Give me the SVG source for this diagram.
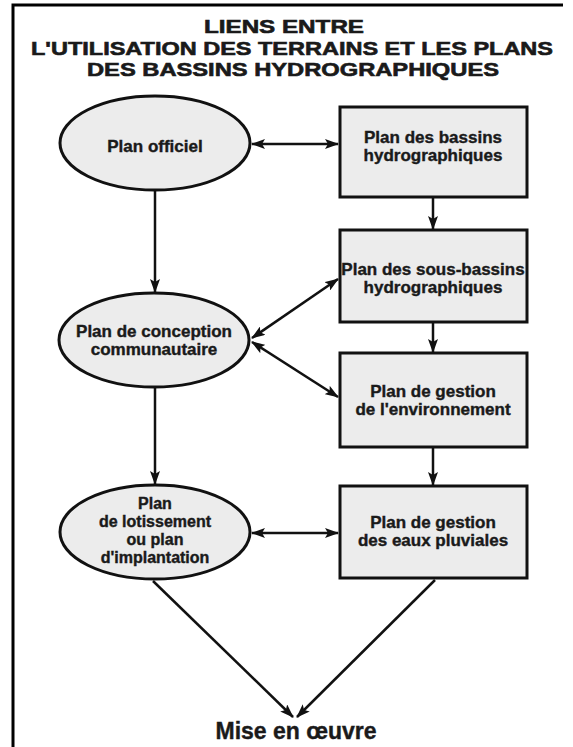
<svg xmlns="http://www.w3.org/2000/svg" width="573" height="747" viewBox="0 0 573 747">
<style>
.t{font-family:"Liberation Sans",Arial,sans-serif;font-weight:bold;fill:#1a1a1a;stroke:#1a1a1a;stroke-width:0.4;text-anchor:middle}
.title{font-size:18px;stroke-width:0.6}
.lbl{font-size:17px}
.sm{font-size:16px}
.node{fill:#ececec;stroke:#111;stroke-width:3}
.c{stroke:#111;stroke-width:2.5;fill:none}
</style>
<defs>
<marker id="ah" viewBox="0 0 14 10" refX="13" refY="5" markerWidth="14" markerHeight="10" markerUnits="userSpaceOnUse" orient="auto-start-reverse">
<path d="M0,0 L14,5 L0,10 L3,5 Z" fill="#111"/>
</marker>
</defs>
<rect width="573" height="747" fill="#fff"/>
<path d="M13,749 V5 H563" fill="none" stroke="#000" stroke-width="3"/>
<g id="title">
<text class="t title" x="284" y="33" textLength="160" lengthAdjust="spacingAndGlyphs">LIENS ENTRE</text>
<text class="t title" x="292" y="55" textLength="522" lengthAdjust="spacingAndGlyphs">L'UTILISATION DES TERRAINS ET LES PLANS</text>
<text class="t title" x="293" y="76" textLength="412" lengthAdjust="spacingAndGlyphs">DES BASSINS HYDROGRAPHIQUES</text>
</g>
<g id="connectors">
<line class="c" x1="252" y1="144" x2="338" y2="144" marker-start="url(#ah)" marker-end="url(#ah)"/>
<line class="c" x1="433" y1="198" x2="433" y2="229" marker-end="url(#ah)"/>
<line class="c" x1="433" y1="323" x2="433" y2="352" marker-end="url(#ah)"/>
<line class="c" x1="433" y1="448" x2="433" y2="485" marker-end="url(#ah)"/>
<line class="c" x1="155" y1="191" x2="155" y2="292" marker-end="url(#ah)"/>
<line class="c" x1="155" y1="387" x2="155" y2="484" marker-end="url(#ah)"/>
<line class="c" x1="252" y1="338" x2="338" y2="279" marker-start="url(#ah)" marker-end="url(#ah)"/>
<line class="c" x1="252" y1="342" x2="338" y2="397" marker-start="url(#ah)" marker-end="url(#ah)"/>
<line class="c" x1="252" y1="533" x2="338" y2="533" marker-start="url(#ah)" marker-end="url(#ah)"/>
<line class="c" x1="153" y1="581" x2="293" y2="717" marker-end="url(#ah)"/>
<line class="c" x1="435" y1="580" x2="297" y2="717" marker-end="url(#ah)"/>
</g>
<g id="plan-officiel">
<ellipse class="node" cx="155" cy="143" rx="95" ry="47"/>
<text class="t lbl" x="155" y="152">Plan officiel</text>
</g>
<g id="plan-bassins">
<rect class="node" x="340" y="107" width="187" height="90"/>
<text class="t lbl" x="433" y="143">Plan des bassins</text>
<text class="t lbl" x="433" y="161">hydrographiques</text>
</g>
<g id="plan-sous-bassins">
<rect class="node" x="340" y="230" width="187" height="92"/>
<text class="t lbl" x="433" y="275">Plan des sous-bassins</text>
<text class="t lbl" x="433" y="293">hydrographiques</text>
</g>
<g id="plan-conception">
<ellipse class="node" cx="154" cy="340" rx="95" ry="47"/>
<text class="t lbl" x="154" y="337">Plan de conception</text>
<text class="t lbl" x="154" y="355">communautaire</text>
</g>
<g id="plan-gestion-env">
<rect class="node" x="340" y="353" width="187" height="94"/>
<text class="t lbl" x="433" y="397">Plan de gestion</text>
<text class="t lbl" x="433" y="415">de l'environnement</text>
</g>
<g id="plan-lotissement">
<ellipse class="node" cx="155" cy="532" rx="95" ry="47"/>
<text class="t sm" x="155" y="509">Plan</text>
<text class="t sm" x="155" y="527">de lotissement</text>
<text class="t sm" x="155" y="545">ou plan</text>
<text class="t sm" x="155" y="563">d'implantation</text>
</g>
<g id="plan-eaux-pluviales">
<rect class="node" x="340" y="486" width="187" height="92"/>
<text class="t lbl" x="433" y="528">Plan de gestion</text>
<text class="t lbl" x="433" y="546">des eaux pluviales</text>
</g>
<g id="mise-en-oeuvre">
<text class="t" style="font-size:23px" x="296" y="739">Mise en œuvre</text>
</g>
</svg>
